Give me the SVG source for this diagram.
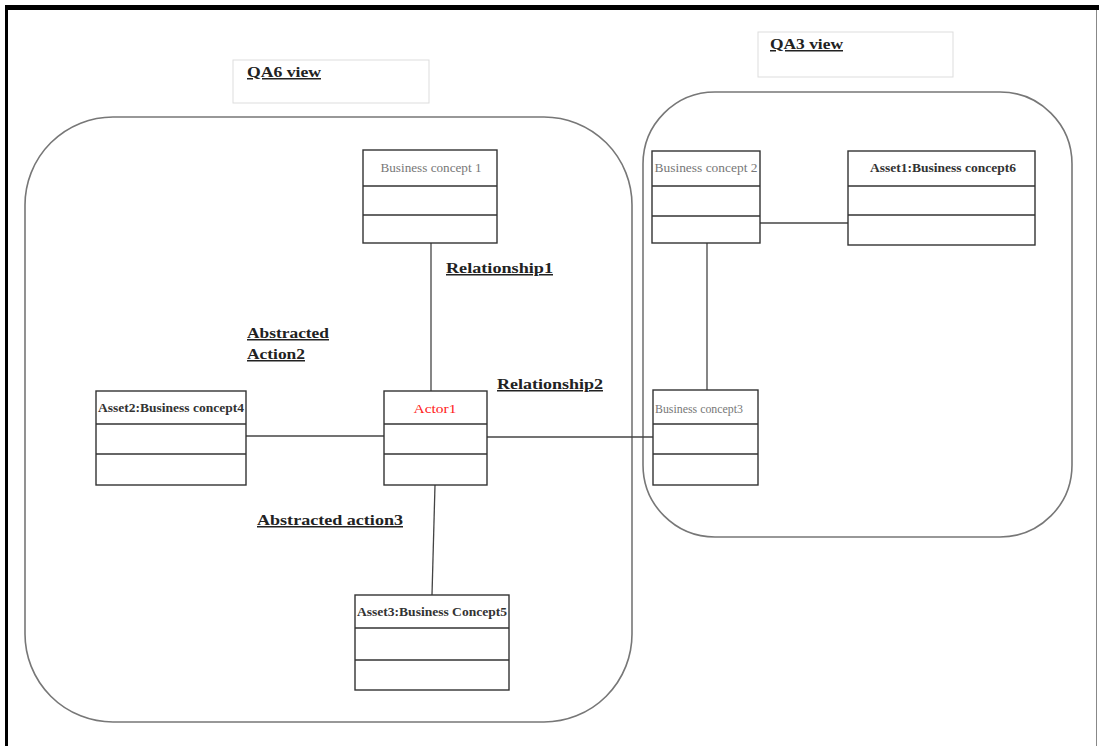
<svg xmlns="http://www.w3.org/2000/svg" width="1099" height="746" viewBox="0 0 1099 746">
<style>
.box{fill:#fff;stroke:#333;stroke-width:1.4}
.sep{stroke:#333;stroke-width:1.6}
.view{fill:none;stroke:#777;stroke-width:1.6}
.vbox{fill:#fff;stroke:#ddd;stroke-width:1}
.conn{stroke:#444;stroke-width:1.3;fill:none}
.lbl{font-family:"Liberation Serif",serif;font-weight:bold;font-size:15px;fill:#222;text-decoration:underline}
.hd{font-family:"Liberation Serif",serif;font-size:12px;fill:#777;text-anchor:middle}
.hdb{font-family:"Liberation Serif",serif;font-size:12px;font-weight:bold;fill:#333;text-anchor:middle}
.red{fill:#ff2020}
</style>
<rect x="0" y="0" width="1099" height="746" fill="#fff"/>
<rect x="5" y="5" width="1094" height="5" fill="#000"/>
<rect x="5" y="5" width="3" height="741" fill="#000"/>
<line x1="1096.5" y1="10" x2="1096.5" y2="746" stroke="#888" stroke-width="1"/>

<g id="qa6-view">
<rect class="vbox" x="233" y="60" width="196" height="43"/>
<text class="lbl" x="247" y="77" textLength="74" lengthAdjust="spacingAndGlyphs">QA6 view</text>
</g>
<g id="qa3-view">
<rect class="vbox" x="758" y="32" width="195" height="45"/>
<text class="lbl" x="770" y="49" textLength="73" lengthAdjust="spacingAndGlyphs">QA3 view</text>
</g>

<g id="qa6-region">
<rect class="view" x="25" y="117" width="607" height="605" rx="88" ry="88"/>
</g>
<g id="qa3-region">
<rect class="view" x="643" y="92" width="429" height="445" rx="72" ry="72"/>
</g>

<g id="connectors">
<line class="conn" x1="431" y1="243" x2="431" y2="391"/>
<line class="conn" x1="246" y1="436" x2="384" y2="436"/>
<line class="conn" x1="487" y1="437" x2="653" y2="437"/>
<line class="conn" x1="435" y1="485" x2="432" y2="595"/>
<line class="conn" x1="707" y1="243" x2="707" y2="390"/>
<line class="conn" x1="760" y1="223" x2="848" y2="223"/>
</g>

<g id="business-concept-1">
<rect class="box" x="363" y="150" width="134" height="93"/>
<line class="sep" x1="363" y1="186" x2="497" y2="186"/>
<line class="sep" x1="363" y1="215" x2="497" y2="215"/>
<text class="hd" x="431" y="172" textLength="101" lengthAdjust="spacingAndGlyphs">Business concept 1</text>
</g>
<g id="business-concept-2">
<rect class="box" x="652" y="151" width="108" height="92"/>
<line class="sep" x1="652" y1="186" x2="760" y2="186"/>
<line class="sep" x1="652" y1="216" x2="760" y2="216"/>
<text class="hd" x="706" y="172" textLength="103" lengthAdjust="spacingAndGlyphs">Business concept 2</text>
</g>
<g id="asset1">
<rect class="box" x="848" y="151" width="187" height="94"/>
<line class="sep" x1="848" y1="186" x2="1035" y2="186"/>
<line class="sep" x1="848" y1="215" x2="1035" y2="215"/>
<text class="hdb" x="943" y="172" textLength="146" lengthAdjust="spacingAndGlyphs">Asset1:Business concept6</text>
</g>
<g id="asset2">
<rect class="box" x="96" y="391" width="150" height="94"/>
<line class="sep" x1="96" y1="424" x2="246" y2="424"/>
<line class="sep" x1="96" y1="454" x2="246" y2="454"/>
<text class="hdb" x="171" y="412" textLength="146" lengthAdjust="spacingAndGlyphs">Asset2:Business concept4</text>
</g>
<g id="actor1">
<rect class="box" x="384" y="391" width="103" height="94"/>
<line class="sep" x1="384" y1="424" x2="487" y2="424"/>
<line class="sep" x1="384" y1="454" x2="487" y2="454"/>
<text class="hd red" x="435" y="413" textLength="43" lengthAdjust="spacingAndGlyphs">Actor1</text>
</g>
<g id="business-concept-3">
<rect class="box" x="653" y="390" width="105" height="95"/>
<line class="sep" x1="653" y1="424" x2="758" y2="424"/>
<line class="sep" x1="653" y1="454" x2="758" y2="454"/>
<text class="hd" x="699" y="413" textLength="88" lengthAdjust="spacingAndGlyphs">Business concept3</text>
</g>
<g id="asset3">
<rect class="box" x="355" y="595" width="154" height="95"/>
<line class="sep" x1="355" y1="628" x2="509" y2="628"/>
<line class="sep" x1="355" y1="660" x2="509" y2="660"/>
<text class="hdb" x="432" y="616" textLength="150" lengthAdjust="spacingAndGlyphs">Asset3:Business Concept5</text>
</g>

<g id="labels">
<text class="lbl" x="446" y="273" textLength="107" lengthAdjust="spacingAndGlyphs">Relationship1</text>
<text class="lbl" x="247" y="338" textLength="82" lengthAdjust="spacingAndGlyphs">Abstracted</text>
<text class="lbl" x="247" y="359" textLength="58" lengthAdjust="spacingAndGlyphs">Action2</text>
<text class="lbl" x="497" y="389" textLength="106" lengthAdjust="spacingAndGlyphs">Relationship2</text>
<text class="lbl" x="257" y="525" textLength="146" lengthAdjust="spacingAndGlyphs">Abstracted action3</text>
</g>
</svg>
